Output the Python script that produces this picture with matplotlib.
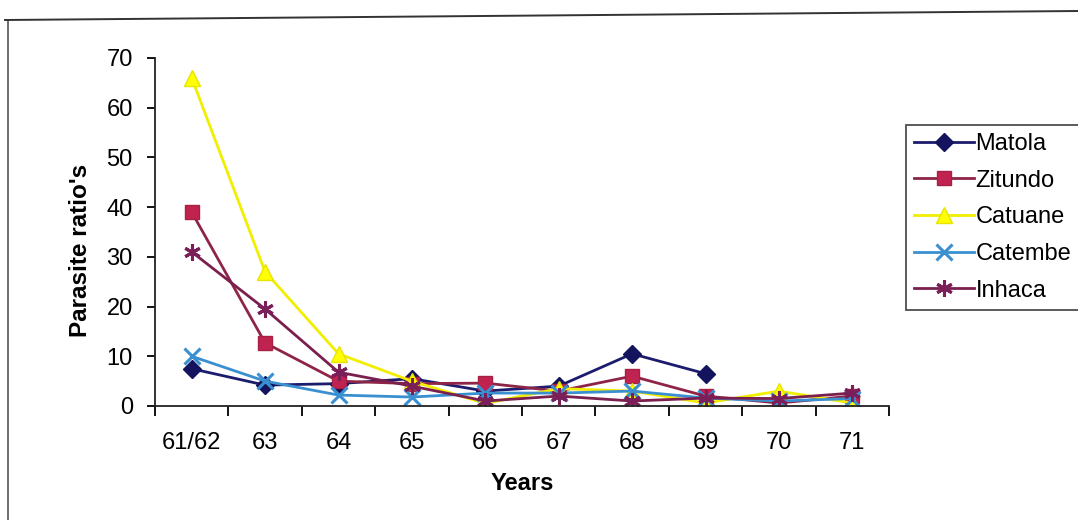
import numpy as np
import matplotlib
matplotlib.use("Agg")
import matplotlib.pyplot as plt
from matplotlib.lines import Line2D

plt.rcParams['font.family'] = ['Liberation Sans', 'DejaVu Sans']

years = ["61/62", "63", "64", "65", "66", "67", "68", "69", "70", "71"]
matola = [7.5, 4.2, 4.5, 5.5, 3.0, 4.0, 10.5, 6.5, np.nan, np.nan]
zitundo = [39, 12.7, 5.0, 4.5, 4.6, 3.0, 6.0, 2.0, 0.6, 2.0]
catuane = [66, 27, 10.5, 5.0, 0.5, 3.5, 3.0, 0.6, 3.0, 0.6]
catembe = [10, 5.0, 2.2, 1.8, 2.6, 2.6, 3.0, 1.6, 1.0, 1.5]
inhaca = [31, 19.5, 6.8, 4.0, 1.0, 2.0, 1.0, 1.6, 1.5, 2.6]

series = [
    ("Matola", matola, dict(color="#1c1c6e", marker="D", mfc="#14145e", mec="#14145e", ms=9)),
    ("Zitundo", zitundo, dict(color="#8e2446", marker="s", mfc="#c0234f", mec="#a81f45", ms=10)),
    ("Catuane", catuane, dict(color="#f2ee00", marker="^", mfc="#ffff00", mec="#e8e400", ms=12)),
    ("Catembe", catembe, dict(color="#3a8fd0", marker="x", mfc="#3a8fd0", mec="#3a8fd0", ms=11, mew=2.2)),
    ("Inhaca", inhaca, dict(color="#7a1f4e", marker=(6, 2, 0), mfc="#7a1f5a", mec="#7a1f5a", ms=12, mew=2.2)),
]

W, H = 1078, 520
fig = plt.figure(figsize=(W / 100, H / 100), dpi=100)
ax = fig.add_axes([155 / W, 1 - 406 / H, (889 - 155) / W, (406 - 58) / H])

x = np.arange(len(years))
for name, vals, style in series:
    ax.plot(x, vals, lw=2.0, label=name, **style)

ax.set_xlim(-0.5, len(years) - 0.5)
ax.set_ylim(0, 70)
ax.set_yticks(np.arange(0, 71, 10))
ax.set_xticks(x)
ax.set_xticklabels(years)
ax.set_xticks(np.arange(-0.5, len(years), 1.0), minor=True)

for s in ("top", "right"):
    ax.spines[s].set_visible(False)
for s in ("left", "bottom"):
    ax.spines[s].set_linewidth(1.3)
    ax.spines[s].set_color("#222222")

ax.tick_params(axis="y", direction="out", length=6, width=1.3, labelsize=17, pad=10)
ax.tick_params(axis="x", which="major", length=0, labelsize=17, pad=19)
ax.tick_params(axis="x", which="minor", direction="out", length=7, width=1.3)

ax.set_ylabel("Parasite ratio's", fontsize=17.5, fontweight="bold")
ax.yaxis.set_label_coords(-0.086, 0.448)
ax.set_xlabel("Years", fontsize=17, fontweight="bold", labelpad=13)

leg = fig.legend(loc="upper left", bbox_to_anchor=(906 / W, 1 - 125 / H),
                 fontsize=17, frameon=True, fancybox=False, edgecolor="#222222",
                 handlelength=2.55, handletextpad=0.05, labelspacing=0.62,
                 borderpad=0.34, borderaxespad=0)
leg.get_frame().set_linewidth(1.3)

# chart-area border along the top and left edges
fig.add_artist(Line2D([8 / W, 8 / W], [0, 1 - 20 / H], transform=fig.transFigure,
                      color="#555555", lw=1.2))
fig.add_artist(Line2D([5 / W, 1.0], [1 - 20 / H, 1 - 11 / H], transform=fig.transFigure,
                      color="#333333", lw=1.4))

fig.savefig("out.png", dpi=100, facecolor="white")
